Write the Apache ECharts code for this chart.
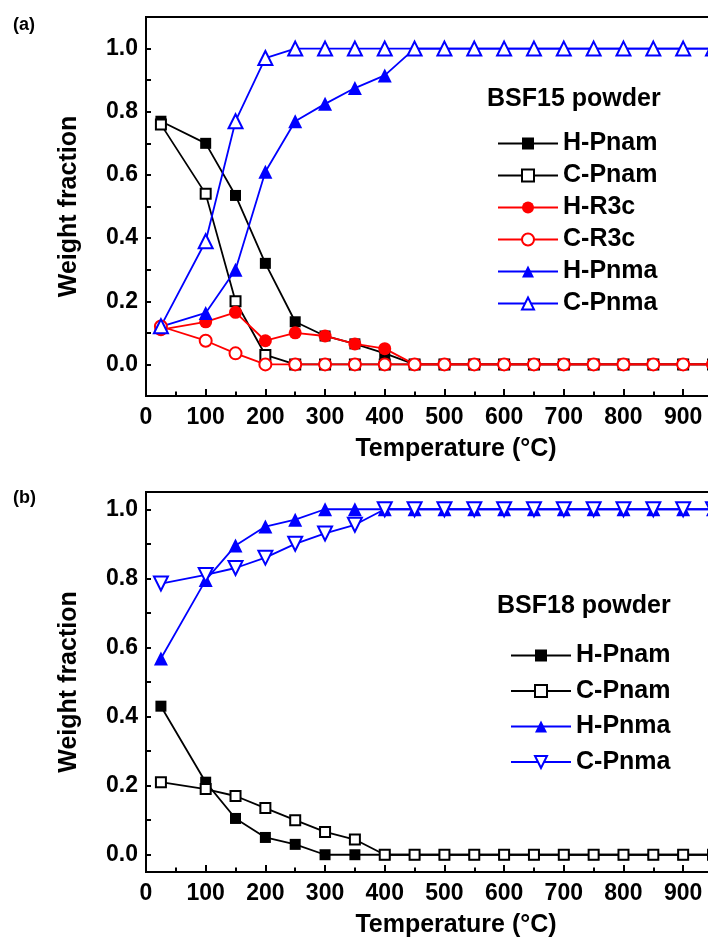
<!DOCTYPE html>
<html><head><meta charset="utf-8">
<script src="https://cdn.jsdelivr.net/npm/echarts@6/dist/echarts.min.js"></script>
<style>html,body{margin:0;padding:0;background:#fff}#c{width:708px;height:941px}</style>
</head><body><div id="c"></div>
<script>
// ---- data ----
const temps = [25,100,150,200,250,300,350,400,450,500,550,600,650,700,750,800,850,900,950];
const xLabelTicks = [0,100,200,300,400,500,600,700,800,900];
const xMinorTicks = [50,150,250,350,450,550,650,750,850];
const yLabelTicks = [0,0.2,0.4,0.6,0.8,1.0];
const yTicks = [0,0.1,0.2,0.3,0.4,0.5,0.6,0.7,0.8,0.9,1.0];

// (a) BSF15 powder
const a_HPnam = [0.77,0.70,0.535,0.32,0.135,0.09,0.065,0.035,0,0,0,0,0,0,0,0,0,0,0];
const a_CPnam = [0.76,0.54,0.20,0.03,0,0,0,0,0,0,0,0,0,0,0,0,0,0,0];
const a_HR3c  = [0.11,0.135,0.165,0.075,0.10,0.09,0.065,0.05,0,0,0,0,0,0,0,0,0,0,0];
const a_CR3c  = [0.12,0.075,0.035,0,0,0,0,0,0,0,0,0,0,0,0,0,0,0,0];
const a_HPnma = [0.12,0.163,0.30,0.61,0.77,0.825,0.875,0.915,1,1,1,1,1,1,1,1,1,1,1];
const a_CPnma = [0.121,0.39,0.77,0.97,1,1,1,1,1,1,1,1,1,1,1,1,1,1,1];

// (b) BSF18 powder
const b_HPnam = [0.43,0.21,0.105,0.05,0.03,0,0,0,0,0,0,0,0,0,0,0,0,0,0];
const b_CPnam = [0.21,0.19,0.17,0.135,0.10,0.066,0.044,0,0,0,0,0,0,0,0,0,0,0,0];
const b_HPnma = [0.568,0.795,0.895,0.95,0.97,1,1,1,1,1,1,1,1,1,1,1,1,1,1];
const b_CPnma = [0.785,0.81,0.83,0.86,0.90,0.93,0.955,1,1,1,1,1,1,1,1,1,1,1,1];

// ---- chart ----
const FONT = "'Liberation Sans', Arial, sans-serif";
const BLACK = '#000', RED = '#ff0000', BLUE = '#0000ff';
const pair = arr => temps.map((t,i)=>[t, arr[i]]);

function xMain(gridIndex){
  return {
    type:'value', gridIndex, min:0, max:950,
    name:'Temperature (\u00B0C)', nameLocation:'middle', nameGap:41,
    nameTextStyle:{fontFamily:FONT, fontWeight:'bold', fontSize:25, color:BLACK, padding:[0,0,0,53]},
    axisLine:{show:true, onZero:false, lineStyle:{color:BLACK, width:2}},
    axisTick:{show:true, inside:true, length:7, customValues:xLabelTicks, lineStyle:{color:BLACK, width:2}},
    axisLabel:{show:true, customValues:xLabelTicks, margin:10, fontFamily:FONT, fontWeight:'bold', fontSize:23, color:BLACK},
    splitLine:{show:false}
  };
}
function xMinor(gridIndex){
  return {
    type:'value', gridIndex, min:0, max:950, position:'bottom',
    axisLine:{show:true, onZero:false, lineStyle:{color:BLACK, width:2}},
    axisTick:{show:true, inside:true, length:4.5, customValues:xMinorTicks, lineStyle:{color:BLACK, width:2}},
    axisLabel:{show:false}, splitLine:{show:false}
  };
}
function yAxis(gridIndex, min, max){
  return {
    type:'value', gridIndex, min, max,
    name:'Weight fraction', nameLocation:'middle', nameGap:64,
    nameTextStyle:{fontFamily:FONT, fontWeight:'bold', fontSize:25, color:BLACK},
    axisLine:{show:true, onZero:false, lineStyle:{color:BLACK, width:2}},
    axisTick:{show:true, inside:true, length:5, customValues:yTicks, lineStyle:{color:BLACK, width:2}},
    axisLabel:{show:true, customValues:yLabelTicks, margin:8, fontFamily:FONT, fontWeight:'bold', fontSize:23, color:BLACK,
      formatter: v => Number(v).toFixed(1)},
    splitLine:{show:false}
  };
}
function line(name, data, color, symbol, size, xi, yi, extra){
  return Object.assign({
    type:'line', name, data:pair(data), xAxisIndex:xi, yAxisIndex:yi,
    symbol, symbolSize:size, showAllSymbol:true,
    lineStyle:{color, width:1.8}, itemStyle:{color, borderWidth:1.8},
    clip:false, animation:false, emphasis:{disabled:true}
  }, extra||{});
}

const option = {
  animation:false,
  backgroundColor:'#fff',
  grid:[
    {left:146, top:17, width:567, height:379, show:true, borderColor:BLACK, borderWidth:2, backgroundColor:'transparent', outerBoundsMode:'none', containLabel:false},
    {left:146, top:492, width:567, height:380, show:true, borderColor:BLACK, borderWidth:2, backgroundColor:'transparent', outerBoundsMode:'none', containLabel:false}
  ],
  xAxis:[xMain(0), xMinor(0), xMain(1), xMinor(1)],
  yAxis:[yAxis(0,-0.1,1.1), yAxis(1,-0.05,1.05)],
  title:[
    {text:'(a)', left:13, top:16, padding:0, textStyle:{fontFamily:FONT, fontWeight:'bold', fontSize:18, color:BLACK}},
    {text:'(b)', left:13, top:489, padding:0, textStyle:{fontFamily:FONT, fontWeight:'bold', fontSize:18, color:BLACK}},
    {text:'BSF15 powder', left:487, top:87, padding:0, textStyle:{fontFamily:FONT, fontWeight:'bold', fontSize:25, color:BLACK}},
    {text:'BSF18 powder', left:497, top:594, padding:0, textStyle:{fontFamily:FONT, fontWeight:'bold', fontSize:25, color:BLACK}}
  ],
  legend:[
    {orient:'vertical', left:497, top:131, padding:0, itemWidth:60, itemHeight:15, itemGap:7, selectedMode:false,
     data:['H-Pnam','C-Pnam','H-R3c','C-R3c','H-Pnma','C-Pnma'],
     formatter:n=>n.split('|')[0],
     textStyle:{fontFamily:FONT, fontWeight:'bold', fontSize:25, color:BLACK}},
    {orient:'vertical', left:510, top:643, padding:0, itemWidth:60, itemHeight:15, itemGap:10.5, selectedMode:false,
     data:['H-Pnam|b','C-Pnam|b','H-Pnma|b','C-Pnma|b'],
     formatter:n=>n.split('|')[0],
     textStyle:{fontFamily:FONT, fontWeight:'bold', fontSize:25, color:BLACK}}
  ],
  series:[
    line('H-Pnam', a_HPnam, BLACK, 'rect', 11, 0, 0),
    line('C-Pnam', a_CPnam, BLACK, 'emptyRect', 10, 0, 0),
    line('H-R3c',  a_HR3c,  RED,   'circle', 13, 0, 0),
    line('C-R3c',  a_CR3c,  RED,   'emptyCircle', 12, 0, 0),
    line('H-Pnma', a_HPnma, BLUE,  'triangle', 14, 0, 0),
    line('C-Pnma', a_CPnma, BLUE,  'emptyTriangle', 14, 0, 0),
    line('H-Pnam|b', b_HPnam, BLACK, 'rect', 11, 2, 1),
    line('C-Pnam|b', b_CPnam, BLACK, 'emptyRect', 10, 2, 1),
    line('H-Pnma|b', b_HPnma, BLUE,  'triangle', 14, 2, 1),
    line('C-Pnma|b', b_CPnma, BLUE,  'emptyTriangle', 14, 2, 1, {symbolRotate:180})
  ]
};
const chart = echarts.init(document.getElementById('c'), null, {renderer:'canvas'});
chart.setOption(option);
</script>
</body></html>
